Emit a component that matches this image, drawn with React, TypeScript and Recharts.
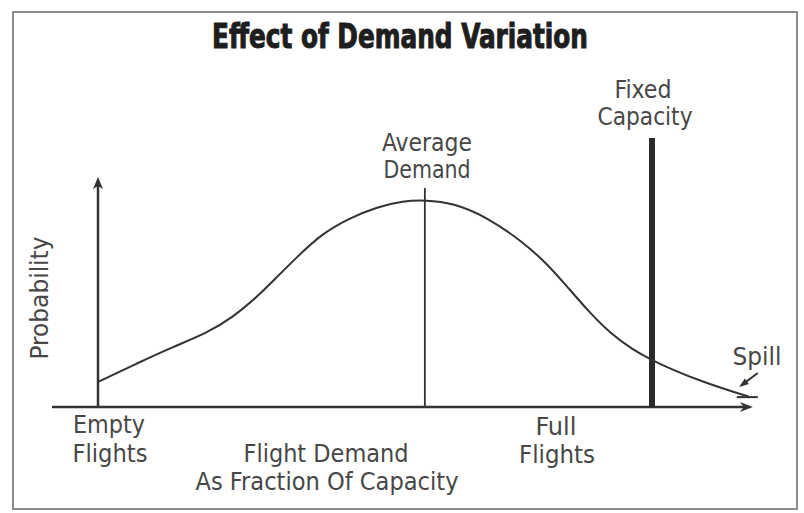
import React from "react";
import { LineChart, Line, XAxis, YAxis, ReferenceLine, ReferenceDot } from "recharts";

// Demand as % of fixed capacity (0 = empty flights, 100 = capacity)
const curveDemand = [0, 7.6, 13.5, 19.7, 24.4, 28.7, 32.3, 35.9, 40.6, 45.5, 50.4, 55.1, 59.0, 64.1, 70.2, 76.2, 81.0, 85.2, 88.8, 92.4, 96.6, 100, 103.8, 109.2, 115.3, 117.5];
// Relative probability (arbitrary units)
const curveProbability = [10.9, 19.6, 26.1, 32.2, 39.1, 47.8, 56.5, 65.2, 75.7, 82.2, 87.0, 89.6, 90.0, 88.7, 82.6, 72.6, 62.6, 50.9, 40.9, 32.2, 24.8, 20.4, 16.1, 10.9, 6.1, 4.5];

const averageDemand = 59.0;
const fixedCapacity = 100;
const axisStart = -8.3;
const axisEnd = 118.2;
const yAxisTop = 100;
const averageLineTop = 95.2;
const capacityLineTop = 117;
const spillTick = { from: 115.3, to: 119.1, y: 4.3 };
const spillArrow = { x1: 119.1, y1: 14.8, x2: 116.1, y2: 9.4 };

const title = "Effect of Demand Variation";
const yLabel = "Probability";
const averageLabel = ["Average", "Demand"];
const capacityLabel = ["Fixed", "Capacity"];
const emptyLabel = ["Empty", "Flights"];
const fullLabel = ["Full", "Flights"];
const xLabel = ["Flight Demand", "As Fraction Of Capacity"];
const spillLabel = "Spill";

const data = curveDemand.map((d, i) => ({ d, p: curveProbability[i] }));

const W = 804;
const H = 513;
// scale constants (pixel mapping of the drawing)
const X_ORIGIN = 98;
const X_PX = 5.54;
const Y_ORIGIN = 407;
const Y_PX = 2.3;
const xDomain = [-X_ORIGIN / X_PX, (W - X_ORIGIN) / X_PX];
const yDomain = [-(H - Y_ORIGIN) / Y_PX, Y_ORIGIN / Y_PX];

const INK = "#333";
const FONT = "'Liberation Sans Narrow', 'DejaVu Sans Condensed', 'Arial Narrow', sans-serif";

const T = ({ x, y, w, children, size = 25, rot }: any) => (
  <text
    x={x}
    y={y}
    textAnchor="middle"
    fontFamily={FONT}
    fontSize={size}
    fill="#474747"
    textLength={w}
    lengthAdjust="spacingAndGlyphs"
    transform={rot ? `rotate(${rot} ${x} ${y})` : undefined}
  >
    {children}
  </text>
);

export default function App() {
  return (
    <div style={{ position: "fixed", left: 0, top: 0, width: W, height: H, background: "#fff" }}>
      <LineChart width={W} height={H} data={data} margin={{ top: 0, right: 0, bottom: 0, left: 0 }}>
        <XAxis dataKey="d" type="number" domain={xDomain} allowDataOverflow hide />
        <YAxis type="number" domain={yDomain} allowDataOverflow hide />
        <ReferenceLine segment={[{ x: axisStart, y: 0 }, { x: axisEnd - 1, y: 0 }]} stroke={INK} strokeWidth={2.5} ifOverflow="visible" />
        <ReferenceLine segment={[{ x: 0, y: 0 }, { x: 0, y: yAxisTop - 2 }]} stroke={INK} strokeWidth={2.5} ifOverflow="visible" />
        <ReferenceLine segment={[{ x: averageDemand, y: 0 }, { x: averageDemand, y: averageLineTop }]} stroke={INK} strokeWidth={1.8} ifOverflow="visible" />
        <ReferenceLine segment={[{ x: fixedCapacity, y: 0 }, { x: fixedCapacity, y: capacityLineTop }]} stroke="#2a2a2a" strokeWidth={6} ifOverflow="visible" />
        <ReferenceLine segment={[{ x: spillTick.from, y: spillTick.y }, { x: spillTick.to, y: spillTick.y }]} stroke={INK} strokeWidth={2} ifOverflow="visible" />
        <ReferenceLine segment={[{ x: spillArrow.x1, y: spillArrow.y1 }, { x: spillArrow.x2, y: spillArrow.y2 }]} stroke={INK} strokeWidth={2} ifOverflow="visible" />
        <ReferenceDot
          x={axisEnd}
          y={0}
          ifOverflow="visible"
          shape={(p: any) => <path d={`M${p.cx},${p.cy} L${p.cx - 13},${p.cy - 5} L${p.cx - 9},${p.cy} L${p.cx - 13},${p.cy + 5} Z`} fill={INK} />}
        />
        <ReferenceDot
          x={0}
          y={yAxisTop}
          ifOverflow="visible"
          shape={(p: any) => <path d={`M${p.cx},${p.cy} L${p.cx - 5},${p.cy + 12} L${p.cx},${p.cy + 9} L${p.cx + 5},${p.cy + 12} Z`} fill={INK} />}
        />
        <ReferenceDot
          x={spillArrow.x2}
          y={spillArrow.y2}
          ifOverflow="visible"
          shape={(p: any) => <path d={`M${p.cx - 2},${p.cy + 1.5} L${p.cx + 7.7},${p.cy - 1.3} L${p.cx + 3.6},${p.cy - 6.9} Z`} fill={INK} />}
        />
        <Line dataKey="p" type="basis" stroke={INK} strokeWidth={2} dot={false} activeDot={false} isAnimationActive={false} />
      </LineChart>
      <svg width={W} height={H} style={{ position: "absolute", left: 0, top: 0, pointerEvents: "none" }}>
        <rect x={13} y={12} width={784} height={497} fill="none" stroke="#8c8c8c" strokeWidth={2} />
        <text
          x={400}
          y={48}
          textAnchor="middle"
          fontFamily={FONT}
          fontWeight="bold"
          fontSize={34}
          fill="#1e1e1e"
          stroke="#1e1e1e"
          strokeWidth={1}
          textLength={376}
          lengthAdjust="spacingAndGlyphs"
        >
          {title}
        </text>
        <T x={427} y={151} w={90}>{averageLabel[0]}</T>
        <T x={427} y={178} w={87}>{averageLabel[1]}</T>
        <T x={643} y={98} w={57}>{capacityLabel[0]}</T>
        <T x={645} y={125} w={95}>{capacityLabel[1]}</T>
        <T x={109} y={433} w={72}>{emptyLabel[0]}</T>
        <T x={110} y={462} w={75}>{emptyLabel[1]}</T>
        <T x={556} y={435} w={41}>{fullLabel[0]}</T>
        <T x={557} y={463} w={76}>{fullLabel[1]}</T>
        <T x={326} y={462} w={165}>{xLabel[0]}</T>
        <T x={327} y={490} w={263}>{xLabel[1]}</T>
        <T x={757} y={365} w={49}>{spillLabel}</T>
        <T x={48} y={298} w={123} rot={-90}>{yLabel}</T>
      </svg>
    </div>
  );
}
